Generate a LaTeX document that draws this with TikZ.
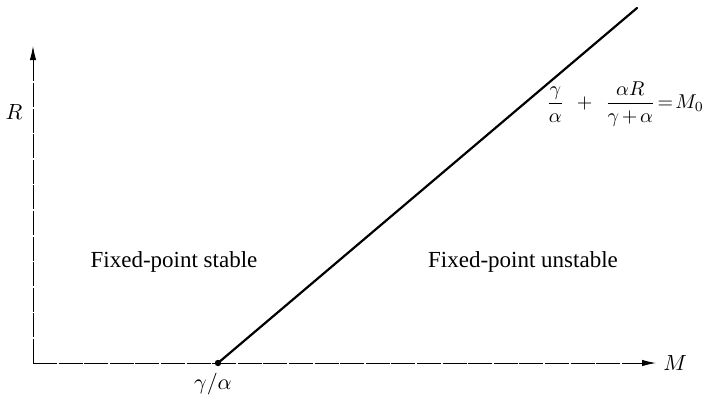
\documentclass[tikz,border=0pt]{standalone}
\usepackage{amsmath}
\usepackage{fontspec}
\setmainfont{Liberation Serif}
\usetikzlibrary{arrows.meta}
\tikzset{
  axis/.style={line width=.45pt,dash pattern=on 12pt off 0.8pt,
    -{Latex[length=7pt,width=3.2pt]}},
  border/.style={line width=1.1pt,line cap=round},
  dot/.style={circle,fill,inner sep=0pt,minimum size=3.2pt},
  lbl/.style={font=\fontsize{11}{13}\selectfont,inner sep=0pt},
  region/.style={font=\fontsize{11.5}{13}\selectfont,inner sep=0pt}
}
\begin{document}
\begin{tikzpicture}[x=0.5pt,y=-0.5pt]
\useasboundingbox (0,0) rectangle (704,396);
% axes
\coordinate (O) at (33,363);
\coordinate (Mend) at (656,363);
\coordinate (Rend) at (33,46);
\draw[axis] (O) -- (Mend);
\draw[axis] (O) -- (Rend);
\node[lbl,anchor=west] (Mlab) at (663,363) {$M$};
\node[lbl] (Rlab) at (14,112) {$R$};
% stability boundary
\node[dot] (crit) at (218,363) {};
\coordinate (top) at (637,8);
\draw[border] (crit.center) -- (top);
\node[lbl] (critlab) at (213,384) {$\gamma/\alpha$};
\node[lbl,font=\fontsize{10}{12}\selectfont,anchor=west] (curve) at (546,104)
  {\medmuskip=2.5mu\thickmuskip=2mu
   $\dfrac{\gamma}{\alpha}\enspace+\enspace\dfrac{\alpha R}{\gamma+\alpha}=M_0$};
% regions
\node[region] (stable) at (174,262) {Fixed-point stable};
\node[region] (unstable) at (523,262) {Fixed-point unstable};
\end{tikzpicture}
\end{document}
